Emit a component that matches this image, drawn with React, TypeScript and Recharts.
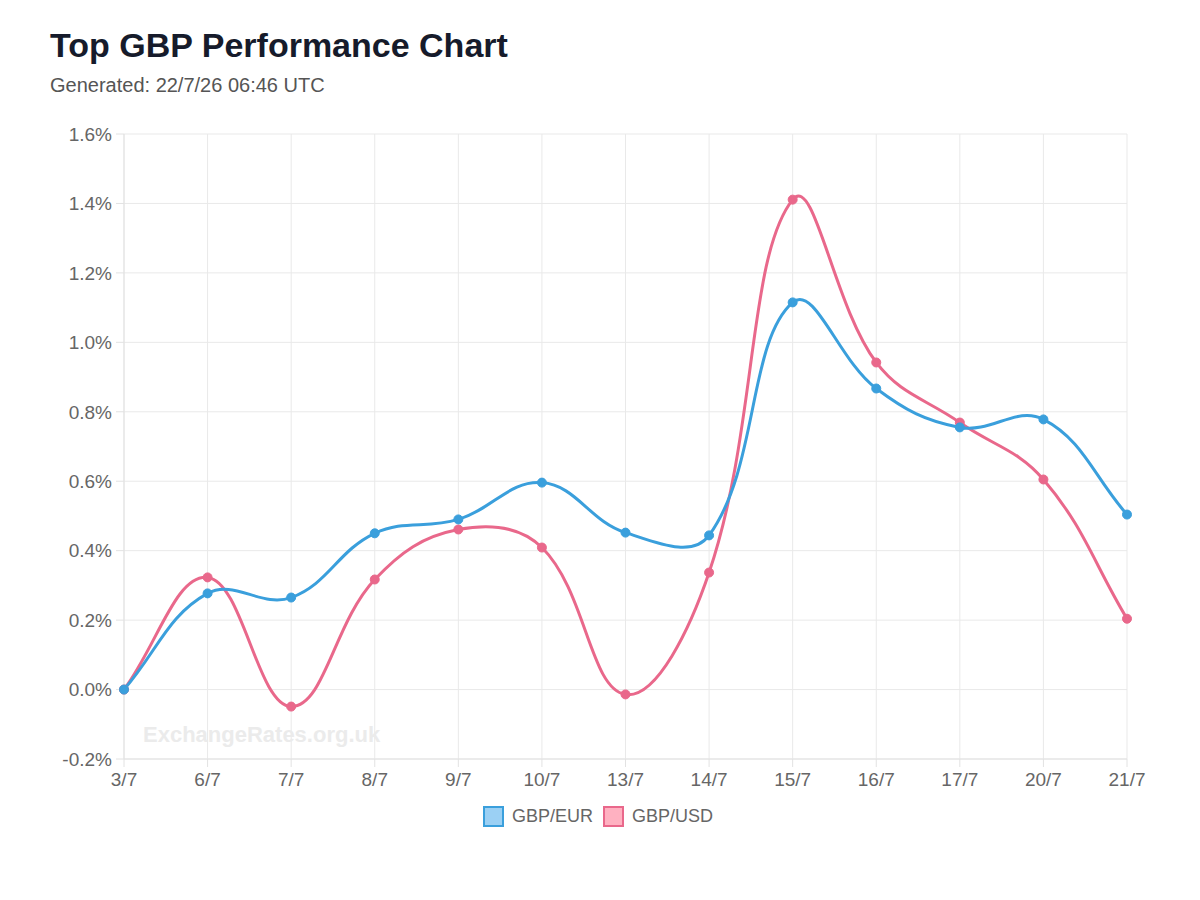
import React from 'react';
import { LineChart, Line, XAxis, YAxis, CartesianGrid } from 'recharts';

const dates = ['3/7', '6/7', '7/7', '8/7', '9/7', '10/7', '13/7', '14/7', '15/7', '16/7', '17/7', '20/7', '21/7'];
const gbpEur = [0, 0.277, 0.265, 0.45, 0.49, 0.596, 0.452, 0.444, 1.115, 0.867, 0.755, 0.778, 0.504];
const gbpUsd = [0, 0.323, -0.049, 0.317, 0.461, 0.409, -0.014, 0.337, 1.411, 0.942, 0.769, 0.605, 0.204];
const yTicks = [-0.2, 0, 0.2, 0.4, 0.6, 0.8, 1.0, 1.2, 1.4, 1.6];

const data = dates.map((d, i) => ({ date: d, eur: gbpEur[i], usd: gbpUsd[i] }));

const BLUE = '#3a9fdc';
const PINK = '#e9688b';
const FONT = '"Liberation Sans", Arial, Helvetica, sans-serif';

// bezier spline in the style of Chart.js (tension 0.4)
const tensionCurve = (t: number) => (ctx: any) => {
  let pts: { x: number; y: number }[] = [];
  return {
    areaStart() {},
    areaEnd() {},
    lineStart() { pts = []; },
    point(x: number, y: number) { pts.push({ x: +x, y: +y }); },
    lineEnd() {
      const n = pts.length;
      if (!n) return;
      const cps = pts.map((cur, i) => {
        const prev = pts[Math.max(0, i - 1)];
        const next = pts[Math.min(n - 1, i + 1)];
        const d01 = Math.hypot(cur.x - prev.x, cur.y - prev.y);
        const d12 = Math.hypot(next.x - cur.x, next.y - cur.y);
        let s01 = d01 / (d01 + d12);
        let s12 = d12 / (d01 + d12);
        if (isNaN(s01)) s01 = 0;
        if (isNaN(s12)) s12 = 0;
        const fa = t * s01;
        const fb = t * s12;
        return {
          px: cur.x - fa * (next.x - prev.x),
          py: cur.y - fa * (next.y - prev.y),
          nx: cur.x + fb * (next.x - prev.x),
          ny: cur.y + fb * (next.y - prev.y),
        };
      });
      ctx.moveTo(pts[0].x, pts[0].y);
      for (let i = 1; i < n; i++) {
        ctx.bezierCurveTo(cps[i - 1].nx, cps[i - 1].ny, cps[i].px, cps[i].py, pts[i].x, pts[i].y);
      }
    },
  };
};

const curve = tensionCurve(0.4);

const LegendItem = ({ label, color, fill }: { label: string; color: string; fill: string }) => (
  <div style={{ display: 'flex', alignItems: 'center', marginRight: 10 }}>
    <span style={{ width: 17, height: 17, border: `2px solid ${color}`, background: fill, marginRight: 8, display: 'inline-block' }} />
    <span style={{ fontSize: 18, color: '#666', lineHeight: '21px' }}>{label}</span>
  </div>
);

export default function App() {
  return (
    <div style={{ position: 'relative', width: 1200, height: 900, margin: -8, background: '#fff', fontFamily: FONT }}>
      <div style={{ position: 'absolute', left: 50, top: 26, fontSize: 34, fontWeight: 700, color: '#161b2b', lineHeight: 'normal' }}>
        Top GBP Performance Chart
      </div>
      <div style={{ position: 'absolute', left: 50, top: 74, fontSize: 20, color: '#555', lineHeight: 'normal' }}>
        Generated: 22/7/26 06:46 UTC
      </div>
      <div style={{ position: 'absolute', left: 0, top: 0 }}>
        <LineChart width={1200} height={900} data={data} margin={{ top: 134, right: 73, bottom: 111, left: 64 }}>
          <CartesianGrid stroke="#e9e9e9" />
          <text x={143} y={742} fontSize={22} fontWeight={700} fill="#ebebeb" fontFamily={FONT}>
            ExchangeRates.org.uk
          </text>
          <XAxis
            dataKey="date"
            stroke="#e2e2e2"
            tickSize={8}
            tickMargin={6}
            tick={{ fill: '#666', fontSize: 19, fontFamily: FONT }}
            tickLine={{ stroke: '#e2e2e2' }}
            interval={0}
            height={30}
          />
          <YAxis
            domain={[-0.2, 1.6]}
            ticks={yTicks}
            width={60}
            stroke="#e2e2e2"
            tickSize={8}
            tickMargin={4}
            tickLine={{ stroke: '#e2e2e2' }}
            tick={{ fill: '#666', fontSize: 19, fontFamily: FONT }}
            tickFormatter={(v: number) => `${v.toFixed(1)}%`}
            allowDataOverflow
          />
          <Line
            dataKey="usd"
            type={curve as any}
            stroke={PINK}
            strokeWidth={3}
            dot={{ r: 4.5, fill: PINK, stroke: PINK, strokeWidth: 1 }}
            isAnimationActive={false}
          />
          <Line
            dataKey="eur"
            type={curve as any}
            stroke={BLUE}
            strokeWidth={3}
            dot={{ r: 4.5, fill: BLUE, stroke: BLUE, strokeWidth: 1 }}
            isAnimationActive={false}
          />
        </LineChart>
      </div>
      <div style={{ position: 'absolute', left: 483, top: 806, display: 'flex' }}>
        <LegendItem label="GBP/EUR" color={BLUE} fill="#9bd0f4" />
        <LegendItem label="GBP/USD" color={PINK} fill="#ffb1c1" />
      </div>
    </div>
  );
}
